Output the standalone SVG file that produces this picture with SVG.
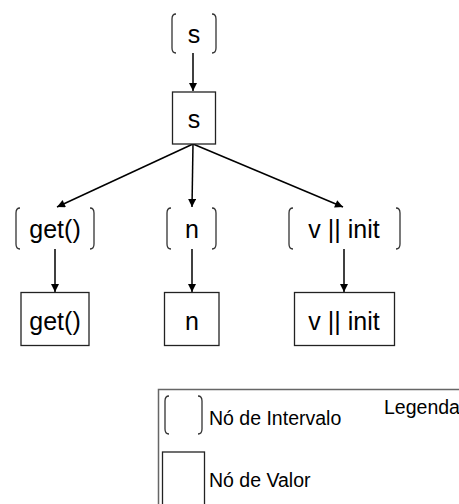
<svg xmlns="http://www.w3.org/2000/svg" width="459" height="504" viewBox="0 0 459 504">
  <style>
    .bracket { fill: none; stroke: #333; stroke-width: 1.3; }
    .box { fill: #fff; stroke: #222; stroke-width: 1.3; }
    .edge { fill: none; stroke: #000; stroke-width: 1.5; }
    .label { font-family: "Liberation Sans", Arial, sans-serif; font-size: 25px; fill: #000; text-anchor: middle; }
    .legend { font-family: "Liberation Sans", Arial, sans-serif; font-size: 19.5px; fill: #000; }
    .frame { fill: none; stroke: #666; stroke-width: 1.5; }
  </style>
  <defs>
    <marker id="arrow" viewBox="0 0 10 10" refX="10" refY="5" markerWidth="10" markerHeight="8" markerUnits="userSpaceOnUse" orient="auto">
      <path d="M0,0 L10,5 L0,10 z" fill="#000"/>
    </marker>
  </defs>

  <rect width="459" height="504" fill="#fff"/>

  <!-- connectors -->
  <g id="edges">
    <line class="edge" x1="193" y1="53" x2="193" y2="91" marker-end="url(#arrow)"/>
    <line class="edge" x1="193" y1="144" x2="57" y2="207" marker-end="url(#arrow)"/>
    <line class="edge" x1="193" y1="144" x2="192" y2="207" marker-end="url(#arrow)"/>
    <line class="edge" x1="193" y1="144" x2="343" y2="207" marker-end="url(#arrow)"/>
    <line class="edge" x1="55" y1="249" x2="55" y2="292" marker-end="url(#arrow)"/>
    <line class="edge" x1="192" y1="249" x2="192" y2="292" marker-end="url(#arrow)"/>
    <line class="edge" x1="344" y1="249" x2="344" y2="292" marker-end="url(#arrow)"/>
  </g>

  <!-- interval node: s -->
  <g id="interval-s">
    <path class="bracket" d="M176,14 Q172,14 172,19 L172,48 Q172,53 176,53"/>
    <path class="bracket" d="M212,14 Q216,14 216,19 L216,48 Q216,53 212,53"/>
    <text class="label" x="194" y="43">s</text>
  </g>

  <!-- value node: s -->
  <g id="value-s">
    <rect class="box" x="172.5" y="92" width="43" height="52"/>
    <text class="label" x="194" y="128">s</text>
  </g>

  <!-- interval node: get() -->
  <g id="interval-get">
    <path class="bracket" d="M20,208 Q16,208 16,213 L16,244 Q16,249 20,249"/>
    <path class="bracket" d="M90,208 Q94,208 94,213 L94,244 Q94,249 90,249"/>
    <text class="label" x="55" y="238">get()</text>
  </g>

  <!-- interval node: n -->
  <g id="interval-n">
    <path class="bracket" d="M171,208 Q167,208 167,213 L167,244 Q167,249 171,249"/>
    <path class="bracket" d="M212,208 Q216,208 216,213 L216,244 Q216,249 212,249"/>
    <text class="label" x="192" y="238">n</text>
  </g>

  <!-- interval node: v || init -->
  <g id="interval-v">
    <path class="bracket" d="M293,208 Q289,208 289,213 L289,244 Q289,249 293,249"/>
    <path class="bracket" d="M396,208 Q400,208 400,213 L400,244 Q400,249 396,249"/>
    <text class="label" x="344" y="238">v || init</text>
  </g>

  <!-- value node: get() -->
  <g id="value-get">
    <rect class="box" x="21" y="292.5" width="68" height="53"/>
    <text class="label" x="55" y="330">get()</text>
  </g>

  <!-- value node: n -->
  <g id="value-n">
    <rect class="box" x="164.5" y="292.5" width="54.5" height="53"/>
    <text class="label" x="192" y="330">n</text>
  </g>

  <!-- value node: v || init -->
  <g id="value-v">
    <rect class="box" x="294.5" y="292.5" width="100" height="53"/>
    <text class="label" x="344" y="330">v || init</text>
  </g>

  <!-- legend -->
  <g id="legend">
    <path class="frame" d="M158.5,510 L158.5,389.5 L465,389.5"/>
    <path class="bracket" d="M169,396 Q165,396 165,401 L165,429 Q165,434 169,434"/>
    <path class="bracket" d="M198,396 Q202,396 202,401 L202,429 Q202,434 198,434"/>
    <rect class="box" x="162.5" y="452" width="42" height="60"/>
    <text class="legend" x="209" y="425">Nó de Intervalo</text>
    <text class="legend" x="384" y="414">Legenda</text>
    <text class="legend" x="209" y="487">Nó de Valor</text>
  </g>
</svg>
